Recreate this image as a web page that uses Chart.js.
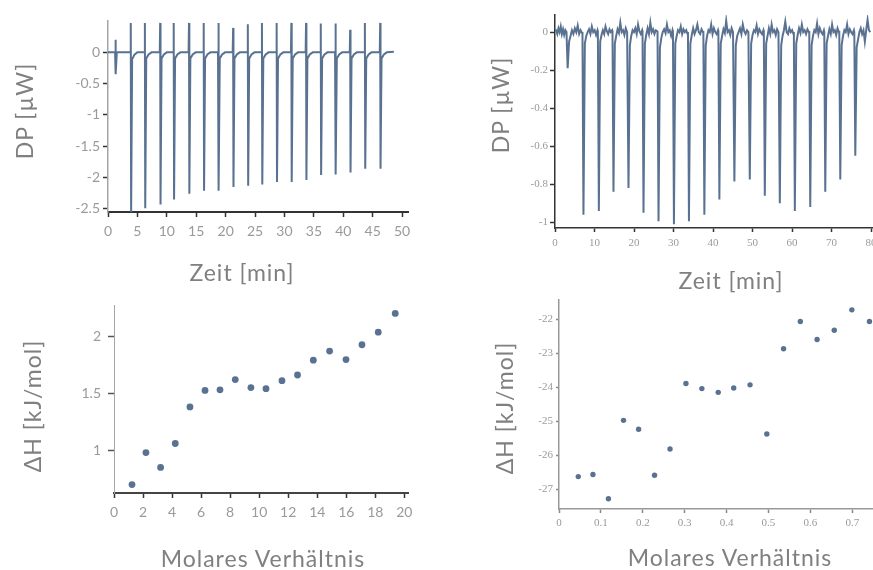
<!DOCTYPE html>
<html lang="de">
<head>
<meta charset="utf-8">
<title>ITC Messungen</title>
<script src="https://cdn.jsdelivr.net/npm/chart.js@4.4.1/dist/chart.umd.min.js"></script>
<style>
  html, body { margin: 0; padding: 0; background: #fff; }
  body { width: 873px; height: 570px; overflow: hidden; position: relative; font-family: Lato, "Open Sans", sans-serif; }
  canvas { position: absolute; }
  .ttl { position: absolute; color: #808080; font-size: 23px; letter-spacing: 1px; line-height: 1; white-space: nowrap; transform: translate(-50%, -50%); }
  .ttl.rot { transform: translate(-50%, -50%) rotate(-90deg); }
</style>
</head>
<body>
<canvas id="dp1" width="420" height="290" style="left:0;top:0;width:420px;height:290px"></canvas>
<canvas id="dp2" width="450" height="300" style="left:440px;top:0;width:450px;height:300px"></canvas>
<canvas id="dh1" width="420" height="280" style="left:0;top:290px;width:420px;height:280px"></canvas>
<canvas id="dh2" width="450" height="280" style="left:440px;top:290px;width:450px;height:280px"></canvas>

<div class="ttl rot" style="left:24px;top:111px">DP [µW]</div>
<div class="ttl" style="left:242px;top:272px">Zeit [min]</div>
<div class="ttl rot" style="left:500px;top:105px">DP [µW]</div>
<div class="ttl" style="left:731px;top:280px">Zeit [min]</div>
<div class="ttl rot" style="left:32px;top:406px">ΔH [kJ/mol]</div>
<div class="ttl" style="left:263px;top:558px">Molares Verhältnis</div>
<div class="ttl rot" style="left:504px;top:408px">ΔH [kJ/mol]</div>
<div class="ttl" style="left:730px;top:557px">Molares Verhältnis</div>

<script>
// thermogram 1: injection times [min], peak top / bottom / after-dip [µW]
var inj1_time = [1.3, 3.9, 6.3, 8.9, 11.2, 13.8, 16.3, 18.8, 21.3, 23.8, 26.2, 28.7, 31.2, 33.7, 36.2, 38.7, 41.2, 43.7, 46.3];
var inj1_top = [0.2, 0.47, 0.47, 0.47, 0.47, 0.47, 0.47, 0.47, 0.39, 0.45, 0.47, 0.47, 0.47, 0.47, 0.46, 0.46, 0.36, 0.47, 0.47];
var inj1_bottom = [-0.35, -2.55, -2.49, -2.43, -2.35, -2.26, -2.21, -2.21, -2.15, -2.13, -2.11, -2.07, -2.07, -2.04, -1.96, -1.95, -1.92, -1.86, -1.86];
var inj1_dip = [0, -0.11, -0.1, -0.1, -0.1, -0.1, -0.1, -0.1, -0.1, -0.1, -0.1, -0.1, -0.1, -0.1, -0.1, -0.1, -0.1, -0.1, -0.1];
var inj1_end = 48.6;
var dp1_ticks = [0, -0.5, -1, -1.5, -2, -2.5];
var time1_ticks = [0, 5, 10, 15, 20, 25, 30, 35, 40, 45, 50];

// thermogram 2: injection times [min], peak bottoms [µW], baseline wiggle per gap
var inj2_time = [3.2, 7.2, 11.1, 14.8, 18.6, 22.4, 26.2, 30.1, 33.9, 37.8, 41.6, 45.4, 49.3, 53.1, 56.9, 60.7, 64.6, 68.4, 72.2, 76.0];
var inj2_bottom = [-0.19, -0.96, -0.94, -0.84, -0.82, -0.95, -0.995, -1.01, -0.995, -0.96, -0.88, -0.785, -0.775, -0.86, -0.90, -0.94, -0.92, -0.84, -0.775, -0.65];
var inj2_end = 79.8;
var noise2 = [
  [0.01, -0.01, 0.02, 0.0, 0.03, -0.01, 0.015, -0.015, 0.01, 0.0],
  [-0.05, -0.02, 0.01, -0.01, 0.02, 0.0, 0.035, -0.01, 0.01, -0.005],
  [-0.06, -0.02, 0.0, 0.015, -0.01, 0.03, 0.0, 0.01, -0.015, 0.01],
  [-0.05, -0.015, 0.01, -0.01, 0.03, 0.005, -0.01, 0.015, 0.0, 0.01],
  [-0.06, -0.02, 0.015, -0.005, 0.05, 0.0, 0.01, -0.015, 0.02, 0.0],
  [-0.07, -0.02, 0.01, 0.0, 0.02, -0.01, 0.04, 0.005, -0.01, 0.01],
  [-0.06, -0.015, 0.02, -0.01, 0.05, 0.0, 0.015, -0.01, 0.01, 0.005],
  [-0.08, -0.03, 0.0, 0.015, -0.005, 0.04, 0.0, 0.01, -0.02, 0.01],
  [-0.06, -0.02, 0.01, 0.0, 0.03, -0.01, 0.015, 0.0, 0.01, -0.01],
  [-0.06, -0.015, 0.02, -0.01, 0.01, 0.04, 0.0, -0.01, 0.015, 0.0],
  [-0.07, -0.02, 0.01, 0.0, 0.04, -0.01, 0.02, 0.0, -0.01, 0.01],
  [-0.06, -0.02, 0.015, -0.005, 0.06, 0.0, 0.01, -0.015, 0.02, 0.0],
  [-0.07, -0.02, 0.0, 0.02, -0.01, 0.04, 0.005, -0.01, 0.01, 0.0],
  [-0.06, -0.015, 0.01, 0.0, 0.035, -0.01, 0.015, 0.0, -0.01, 0.01],
  [-0.06, -0.02, 0.02, -0.01, 0.04, 0.0, 0.01, -0.015, 0.015, 0.0],
  [-0.07, -0.02, 0.01, 0.055, 0.0, -0.01, 0.02, 0.0, 0.01, -0.01],
  [-0.06, -0.015, 0.02, -0.005, 0.04, 0.0, 0.01, -0.01, 0.015, 0.0],
  [-0.07, -0.02, 0.01, 0.0, 0.045, -0.01, 0.02, 0.0, -0.01, 0.01],
  [-0.06, -0.02, 0.015, -0.01, 0.04, 0.0, 0.01, -0.015, 0.02, 0.0],
  [-0.07, -0.02, 0.01, 0.0, 0.04, -0.01, 0.015, 0.0, -0.01, 0.01],
  [-0.08, -0.04, 0.0, 0.02, -0.01, 0.01, -0.05, 0.01, 0.065, 0.01]
];
var dp2_ticks = [0, -0.2, -0.4, -0.6, -0.8, -1];
var time2_ticks = [0, 10, 20, 30, 40, 50, 60, 70, 80];

// integrated heats
var ratio1 = [1.24, 2.2, 3.21, 4.22, 5.23, 6.27, 7.3, 8.35, 9.43, 10.47, 11.57, 12.64, 13.73, 14.85, 15.98, 17.08, 18.2, 19.37];
var dh1_vals = [0.70, 0.98, 0.85, 1.06, 1.38, 1.525, 1.53, 1.62, 1.55, 1.54, 1.61, 1.66, 1.79, 1.87, 1.795, 1.925, 2.035, 2.2];
var dh1_ticks = [1, 1.5, 2];
var ratio1_ticks = [0, 2, 4, 6, 8, 10, 12, 14, 16, 18, 20];

var ratio2 = [0.046, 0.081, 0.118, 0.154, 0.19, 0.228, 0.265, 0.303, 0.341, 0.38, 0.417, 0.456, 0.496, 0.536, 0.576, 0.616, 0.657, 0.699, 0.741];
var dh2_vals = [-26.62, -26.56, -27.27, -24.97, -25.23, -26.58, -25.81, -23.89, -24.04, -24.15, -24.02, -23.93, -25.37, -22.87, -22.07, -22.6, -22.33, -21.73, -22.07];
var dh2_ticks = [-22, -23, -24, -25, -26, -27];
var ratio2_ticks = [0, 0.1, 0.2, 0.3, 0.4, 0.5, 0.6, 0.7];

var line_color = '#5a7291';

function trace1() {
    let pts = [{ x: 0, y: 0 }];
    for (let i = 0; i < inj1_time.length; i++) {
        let t = inj1_time[i];
        pts.push({ x: t - 0.1, y: 0 });
        pts.push({ x: t - 0.03, y: inj1_top[i] });
        pts.push({ x: t + 0.03, y: inj1_bottom[i] });
        pts.push({ x: t + 0.2, y: inj1_dip[i] });
        pts.push({ x: t + 0.6, y: inj1_dip[i] / 3 });
        pts.push({ x: t + 1.1, y: 0 });
    }
    pts.push({ x: inj1_end, y: 0.01 });
    return pts;
}

function trace2() {
    let pts = [{ x: 0, y: 0.01 }];
    for (let g = 0; g < noise2.length; g++) {
        let s = g == 0 ? 0 : inj2_time[g - 1];
        let e = g < inj2_time.length ? inj2_time[g] : inj2_end;
        let n = noise2[g].length;
        for (let k = 0; k < n; k++) {
            pts.push({ x: s + (k + 1) * (e - s) / (n + 1), y: noise2[g][k] });
        }
        if (g < inj2_time.length) {
            pts.push({ x: e - 0.25, y: 0 });
            pts.push({ x: e, y: inj2_bottom[g] });
        }
    }
    pts.push({ x: inj2_end, y: 0.0 });
    return pts;
}

function points(xs, ys) {
    return xs.map((v, i) => ({ x: v, y: ys[i] }));
}

// one linear axis with fixed tick list and fixed box size
function make_axis(o) {
    return {
        type: 'linear',
        min: o.min,
        max: o.max,
        afterBuildTicks: (s) => { s.ticks = o.ticks.map(v => ({ value: v })); },
        afterFit: (s) => { if (o.horizontal) { s.height = o.size; } else { s.width = o.size; } },
        grid: { display: true, drawOnChartArea: false, drawTicks: true, tickLength: o.tickLength, tickColor: o.tickColor, tickWidth: 1.5 },
        border: { display: true, color: o.borderColor, width: o.borderWidth },
        ticks: {
            color: '#9a9a9a',
            font: { family: o.font, size: o.fontSize },
            padding: o.padding,
            maxRotation: 0,
            autoSkip: false,
            callback: (v) => String(v)
        }
    };
}

function make_chart(id, datasets, x, y, pad) {
    return new Chart(document.getElementById(id), {
        type: 'scatter',
        data: { datasets: datasets },
        options: {
            responsive: false,
            animation: false,
            devicePixelRatio: 1,
            layout: { padding: pad },
            plugins: { legend: { display: false }, tooltip: { enabled: false } },
            scales: { x: x, y: y }
        }
    });
}

var sans = 'Lato, "Open Sans", sans-serif';
var serif = '"Liberation Serif", "DejaVu Serif", serif';

make_chart('dp1',
    [{ data: trace1(), showLine: true, borderColor: line_color, borderWidth: 2, pointRadius: 0, tension: 0 }],
    make_axis({ horizontal: true, min: 0, max: 51, ticks: time1_ticks, size: 78, tickLength: 5, tickColor: '#333', borderColor: '#333', borderWidth: 2, font: sans, fontSize: 14, padding: 6 }),
    make_axis({ min: -2.55, max: 0.5, ticks: dp1_ticks, size: 108, tickLength: 5, tickColor: '#333', borderColor: '#a5a5a5', borderWidth: 1.5, font: sans, fontSize: 14, padding: 3 }),
    { top: 21, right: 12, left: 0, bottom: 0 });

make_chart('dp2',
    [{ data: trace2(), showLine: true, borderColor: line_color, borderWidth: 2, pointRadius: 0, tension: 0 }],
    make_axis({ horizontal: true, min: 0, max: 82, ticks: time2_ticks, size: 72, tickLength: 4, tickColor: '#333', borderColor: '#333', borderWidth: 1.5, font: serif, fontSize: 11, padding: 5 }),
    make_axis({ min: -1.03, max: 0.09, ticks: dp2_ticks, size: 115, tickLength: 5, tickColor: '#333', borderColor: '#333', borderWidth: 1.5, font: serif, fontSize: 11, padding: 2 }),
    { top: 15, right: 11, left: 0, bottom: 0 });

make_chart('dh1',
    [{ data: points(ratio1, dh1_vals), showLine: false, backgroundColor: line_color, borderColor: line_color, pointRadius: 3.4, borderWidth: 0 }],
    make_axis({ horizontal: true, min: 0, max: 20.25, ticks: ratio1_ticks, size: 77, tickLength: 5, tickColor: '#333', borderColor: '#444', borderWidth: 2, font: sans, fontSize: 14, padding: 6 }),
    make_axis({ min: 0.626, max: 2.27, ticks: dh1_ticks, size: 114, tickLength: 6, tickColor: '#555', borderColor: '#a5a5a5', borderWidth: 1, font: sans, fontSize: 14, padding: 7 }),
    { top: 13, right: 12, left: 0, bottom: 0 });

make_chart('dh2',
    [{ data: points(ratio2, dh2_vals), showLine: false, backgroundColor: line_color, borderColor: line_color, pointRadius: 2.7, borderWidth: 0 }],
    make_axis({ horizontal: true, min: 0, max: 0.759, ticks: ratio2_ticks, size: 61, tickLength: 4, tickColor: '#888', borderColor: '#999', borderWidth: 1.5, font: serif, fontSize: 11, padding: 4 }),
    make_axis({ min: -27.57, max: -21.43, ticks: dh2_ticks, size: 119, tickLength: 3, tickColor: '#888', borderColor: '#999', borderWidth: 1.5, font: serif, fontSize: 11, padding: 3 }),
    { top: 6, right: 13, left: 0, bottom: 0 });
</script>
</body>
</html>
